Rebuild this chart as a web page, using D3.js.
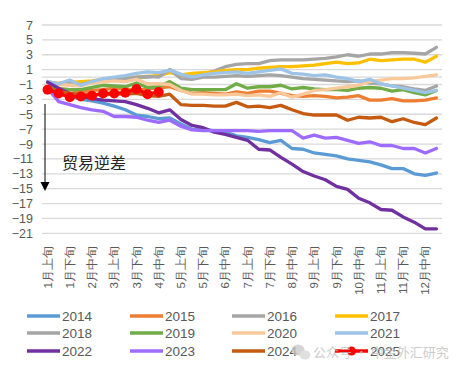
<!DOCTYPE html>
<html><head><meta charset="utf-8">
<script src="https://cdn.jsdelivr.net/npm/d3@7/dist/d3.min.js"></script>
<style>
html,body{margin:0;padding:0;background:#fff;}
svg{display:block;font-family:"Noto Sans CJK SC","Noto Sans",sans-serif;}
</style></head>
<body><svg id="c" width="460" height="368"></svg>
<script>
const categories = ["1月上旬","1月中旬","1月下旬","2月上旬","2月中旬","2月下旬","3月上旬","3月中旬","3月下旬",
"4月上旬","4月中旬","4月下旬","5月上旬","5月中旬","5月下旬","6月上旬","6月中旬","6月下旬",
"7月上旬","7月中旬","7月下旬","8月上旬","8月中旬","8月下旬","9月上旬","9月中旬","9月下旬",
"10月上旬","10月中旬","10月下旬","11月上旬","11月中旬","11月下旬","12月上旬","12月中旬","12月下旬"];
const yTicks = [7,5,3,1,-1,-3,-5,-7,-9,-11,-13,-15,-17,-19,-21];
const years = ["2014","2015","2016","2017","2018","2019","2020","2021","2022","2023","2024","2025"];
const colors = ["#5b9bd5","#ed7d31","#a5a5a5","#ffc000","#a5a5a5","#70ad47","#f9c99c","#9dc3e6","#7030a0","#9e6bff","#c55a11","#ff0000"];

const s2014 = [-0.9,-1.7,-2.5,-3.0,-3.2,-3.5,-3.9,-4.4,-5.1,-5.3,-5.6,-5.5,-6.3,-7.0,-7.1,-7.2,-7.4,-7.9,-8.1,-8.4,-8.8,-8.5,-9.6,-9.7,-10.2,-10.4,-10.6,-11.0,-11.2,-11.4,-11.8,-12.3,-12.3,-13.0,-13.2,-12.9];
const s2015 = [-1.2,-1.6,-1.7,-1.9,-1.8,-1.7,-1.5,-1.6,-1.8,-1.6,-1.4,-1.3,-1.8,-2.2,-2.1,-2.2,-2.3,-2.0,-2.2,-1.9,-1.9,-2.2,-2.5,-2.6,-2.5,-2.6,-2.8,-2.7,-2.5,-3.1,-3.1,-2.9,-3.2,-3.2,-3.1,-2.8];
const s2016 = [-0.8,-1.0,-0.9,-1.0,-0.7,-0.5,-0.4,-0.3,-0.1,0.0,0.2,1.0,0.3,0.0,0.4,0.8,1.4,1.7,1.8,1.8,2.2,2.3,2.3,2.3,2.4,2.5,2.7,3.0,2.8,3.1,3.1,3.3,3.3,3.2,3.1,4.0];
const s2017 = [-0.9,-0.8,-0.7,-0.6,-0.5,-0.3,-0.2,-0.1,0.0,0.1,0.2,0.6,0.3,0.5,0.6,0.7,0.9,1.0,1.0,1.2,1.3,1.4,1.4,1.5,1.6,1.8,2.0,1.8,1.9,2.4,2.2,2.3,2.4,2.4,2.0,2.8];
const s2018 = [-0.6,-0.9,-0.8,-1.0,-0.6,-0.3,-0.3,-0.2,0.0,0.1,0.0,1.0,-0.2,-0.3,0.0,0.0,0.1,0.2,0.1,0.2,0.3,0.2,0.0,-0.2,-0.3,-0.4,-0.5,-0.6,-0.5,-0.8,-0.9,-1.2,-1.3,-1.6,-1.8,-1.2];
const s2019 = [-1.0,-1.6,-1.7,-1.7,-1.4,-1.1,-1.2,-1.3,-0.8,-1.4,-1.3,-0.6,-1.5,-1.7,-1.7,-1.7,-1.7,-0.9,-1.5,-1.3,-1.3,-1.1,-1.6,-1.4,-1.6,-1.7,-1.7,-1.8,-1.5,-1.4,-1.5,-1.9,-1.7,-2.1,-2.4,-1.8];
const s2020 = [-1.0,-1.0,-1.1,-1.2,-0.8,-0.6,-0.5,-0.6,-0.3,-0.9,-0.9,-1.0,-1.8,-2.3,-2.3,-2.4,-2.4,-2.3,-2.5,-2.4,-2.6,-2.1,-2.7,-2.3,-1.8,-1.7,-1.5,-1.3,-1.1,-0.6,-0.4,-0.2,-0.2,-0.1,0.1,0.3];
const s2021 = [-0.6,-0.9,-0.4,-1.1,-0.6,-0.2,0.0,0.2,0.5,0.7,0.6,0.9,0.4,0.0,0.3,0.5,0.6,0.7,0.5,0.7,0.9,1.1,0.5,0.4,0.2,0.3,0.0,-0.2,-0.6,-0.3,-0.9,-1.2,-1.5,-1.8,-2.1,-1.8];
const s2022 = [-0.7,-1.5,-2.2,-2.6,-2.9,-3.1,-3.2,-3.3,-3.7,-4.2,-4.8,-4.4,-5.7,-6.5,-6.8,-7.4,-7.7,-8.1,-8.5,-9.7,-9.8,-10.8,-11.7,-12.7,-13.3,-13.8,-14.7,-15.1,-16.3,-16.9,-17.8,-17.9,-18.8,-19.5,-20.4,-20.4];
const s2023 = [-1.5,-3.3,-3.7,-4.1,-4.4,-4.6,-5.3,-5.3,-5.4,-5.8,-6.1,-5.8,-6.6,-7.1,-7.2,-7.2,-7.2,-7.2,-7.2,-7.3,-7.2,-7.2,-7.2,-8.2,-7.8,-8.2,-8.1,-8.5,-8.9,-8.7,-9.2,-9.2,-9.6,-9.6,-10.2,-9.6];
const s2024 = [-1.5,-1.9,-2.2,-2.3,-2.3,-2.4,-2.3,-2.3,-2.2,-2.5,-2.6,-2.3,-3.7,-3.8,-3.8,-3.9,-3.9,-3.4,-4.0,-3.9,-4.1,-3.8,-4.4,-4.9,-5.1,-5.1,-5.1,-5.8,-5.4,-5.5,-5.4,-6.0,-5.6,-6.1,-6.4,-5.5];
const s2025 = [-1.7,-2.2,-2.7,-2.6,-2.5,-2.2,-2.2,-2.1,-1.6,-2.3,-2.0];
const seriesValues = [s2014,s2015,s2016,s2017,s2018,s2019,s2020,s2021,s2022,s2023,s2024,s2025];

const svg = d3.select("#c");
const x = d3.scaleBand().domain(categories).range([42, 442]);
const y = d3.scaleLinear().domain([-21, 7]).range([233.3, 25]);
const cx = c => x(c) + x.bandwidth()/2;
const grey = "#595959";
const numFont = "'Liberation Sans','DejaVu Sans',sans-serif";

// gridlines
svg.append("g").selectAll("line").data(yTicks).join("line")
  .attr("x1", 42).attr("x2", 442)
  .attr("y1", d => y(d)).attr("y2", d => y(d))
  .attr("stroke", "#d9d9d9").attr("stroke-width", 1.3);
// zero axis line
svg.append("line").attr("x1",42).attr("x2",442).attr("y1",y(0)).attr("y2",y(0))
  .attr("stroke","#d9d9d9").attr("stroke-width",1.3);

// y axis
const ya = svg.append("g").attr("transform","translate(42,0)")
  .call(d3.axisLeft(y).tickValues(yTicks).tickSize(0).tickPadding(9).tickFormat(d3.format("d")));
ya.select(".domain").remove();
ya.selectAll("text").attr("fill", grey).style("font-size","12.5px").style("font-family", numFont);

// x axis labels
const xa = svg.append("g").attr("transform","translate(0,246)")
  .call(d3.axisBottom(x).tickValues(categories.filter((d,i)=>i%2===0)).tickSize(0).tickPadding(0));
xa.select(".domain").remove();
xa.selectAll("text")
  .attr("transform","rotate(-90)")
  .attr("x",0).attr("y",0).attr("dy","0.36em")
  .attr("text-anchor","end")
  .attr("fill", grey).style("font-size","11.5px");

// lines
const line = d3.line().x((d,i)=>cx(categories[i])).y(d=>y(d));
const g = svg.append("g");
seriesValues.forEach((vals, k) => {
  g.append("path").datum(vals).attr("d", line)
    .attr("fill","none").attr("stroke", colors[k]).attr("stroke-width", 3.3)
    .attr("stroke-linejoin","round").attr("stroke-linecap","round");
});
// markers for 2025
g.selectAll("circle.m").data(s2025).join("circle").attr("class","m")
  .attr("cx",(d,i)=>cx(categories[i])).attr("cy",d=>y(d)).attr("r",5).attr("fill","#ff0000");

// annotation arrow
svg.append("line").attr("x1",45).attr("x2",45).attr("y1",104).attr("y2",183)
  .attr("stroke","#000").attr("stroke-width",1);
svg.append("path").attr("d","M40.5,182 L49.5,182 L45,191 Z").attr("fill","#000");
svg.append("text").attr("x",62).attr("y",169).text("贸易逆差")
  .attr("fill","#262626").style("font-size","16px");

// legend
const legX = [27,130,232,335], legY = [316,333,351];
years.forEach((yr,k)=>{
  const col = k%4, row = Math.floor(k/4);
  const lg = svg.append("g").attr("transform",`translate(${legX[col]},${legY[row]})`);
  lg.append("line").attr("x1",0).attr("x2",33).attr("y1",0).attr("y2",0)
    .attr("stroke",colors[k]).attr("stroke-width",3.3);
  if (yr==="2025") lg.append("circle").attr("cx",16.5).attr("cy",0).attr("r",4.5).attr("fill","#ff0000");
  lg.append("text").attr("x",35).attr("y",0).attr("dy","0.36em").text(yr)
    .attr("fill",grey).style("font-size","13.5px").style("font-family", numFont);
});

// watermark
const wm = svg.append("g").attr("opacity",0.75);
wm.append("ellipse").attr("cx",298).attr("cy",350).attr("rx",6.5).attr("ry",5.5).attr("fill","#c8c8c8");
wm.append("ellipse").attr("cx",305).attr("cy",355).attr("rx",5.5).attr("ry",4.5).attr("fill","#d6d6d6");
wm.append("text").attr("x",313).attr("y",352).attr("dy","0.36em").text("公众号 · 中金外汇研究")
  .attr("fill","#bdbdbd").style("font-size","13px");
</script></body></html>
